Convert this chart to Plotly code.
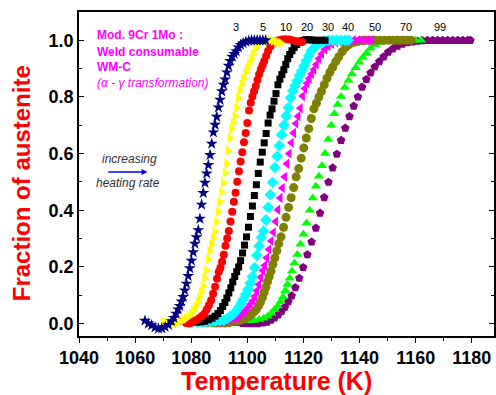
import plotly.graph_objects as go

# ---------------- data ----------------
rates = ["3", "5", "10", "20", "30", "40", "50", "70", "99"]

T_3 = [1063.5,1064.7,1065.9,1067.1,1068.3,1069.5,1070.7,1071.9,1073.0,1073.8,1074.6,1075.3,1075.9,1076.5,1077.1,1077.7,1078.3,1078.9,1079.5,1080.1,1080.7,1081.3,1081.9,1082.5,1083.1,1083.7,1084.3,1084.9,1085.5,1086.1,1086.7,1087.3,1087.9,1088.5,1089.1,1089.7,1090.3,1090.9,1091.5,1092.1,1092.7,1093.3,1093.9,1094.6,1095.3,1096.0,1096.8,1097.6,1098.5,1099.5,1100.5,1101.5,1102.5,1103.5,1104.5,1105.5,1106.5]
F_3 = [0.01,0.0,-0.006,-0.014,-0.018,-0.017,-0.012,-0.005,0.008,0.02,0.035,0.05,0.062,0.078,0.094,0.117,0.141,0.168,0.195,0.222,0.252,0.282,0.305,0.33,0.37,0.42,0.461,0.497,0.53,0.56,0.595,0.635,0.675,0.702,0.73,0.763,0.79,0.82,0.843,0.862,0.887,0.91,0.927,0.942,0.952,0.962,0.975,0.984,0.99,0.995,0.998,1.0,1.0,1.0,1.0,1.0,1.0]

T_5 = [1070.0,1071.2,1072.4,1073.6,1074.8,1076.0,1077.2,1078.2,1079.1,1080.0,1080.8,1081.6,1082.4,1083.0,1083.6,1084.2,1084.8,1085.4,1086.0,1086.6,1087.2,1087.8,1088.4,1089.0,1089.6,1090.2,1090.8,1091.4,1092.0,1092.6,1093.2,1093.8,1094.4,1095.0,1095.6,1096.2,1096.8,1097.4,1098.0,1098.6,1099.3,1100.0,1100.7,1101.4,1102.1,1102.8,1103.5,1104.3,1105.2,1106.2,1107.2,1108.2,1109.2,1110.2,1111.2,1112.0]
F_5 = [0.008,0.003,0.0,0.0,0.002,0.007,0.012,0.018,0.026,0.035,0.047,0.06,0.076,0.094,0.112,0.132,0.16,0.187,0.226,0.256,0.28,0.302,0.325,0.36,0.395,0.43,0.464,0.497,0.532,0.565,0.61,0.655,0.688,0.709,0.733,0.762,0.795,0.822,0.845,0.866,0.885,0.902,0.918,0.935,0.952,0.97,0.982,0.99,0.996,0.998,1.0,1.0,0.998,0.995,0.993,0.99]

T_10 = [1077.0,1078.2,1079.4,1080.6,1081.8,1082.8,1083.8,1084.7,1085.5,1086.3,1087.1,1087.8,1088.5,1089.2,1089.8,1090.4,1091.0,1091.6,1092.2,1092.8,1093.4,1094.0,1094.6,1095.2,1095.8,1096.4,1097.0,1097.6,1098.2,1098.8,1099.4,1100.0,1100.6,1101.2,1101.8,1102.4,1103.0,1103.6,1104.2,1104.8,1105.4,1106.0,1106.7,1107.4,1108.2,1109.1,1110.1,1111.2,1112.4,1113.6,1114.8,1116.0,1117.2,1118.4,1119.5]
F_10 = [0.008,0.002,0.0,0.006,0.012,0.019,0.027,0.035,0.05,0.065,0.082,0.105,0.13,0.158,0.182,0.197,0.218,0.243,0.275,0.3,0.327,0.36,0.395,0.43,0.462,0.501,0.538,0.572,0.605,0.64,0.673,0.708,0.752,0.78,0.802,0.82,0.838,0.86,0.88,0.897,0.912,0.926,0.945,0.962,0.978,0.99,0.997,1.0,1.003,1.004,1.003,1.0,0.998,0.996,0.994]

T_20 = [1082.0,1083.4,1084.8,1086.2,1087.4,1088.5,1089.5,1090.4,1091.2,1092.0,1092.7,1093.4,1094.1,1094.8,1095.5,1096.2,1096.9,1097.6,1098.3,1099.0,1099.7,1100.4,1101.1,1101.8,1102.5,1103.2,1103.9,1104.6,1105.3,1106.0,1106.7,1107.4,1108.1,1108.8,1109.5,1110.2,1110.9,1111.6,1112.3,1113.0,1113.7,1114.4,1115.1,1115.9,1116.7,1117.6,1118.6,1119.7,1120.8,1122.0,1123.2,1124.4,1125.6,1126.7,1127.7]
F_20 = [0.005,0.006,0.008,0.013,0.019,0.026,0.035,0.046,0.06,0.074,0.09,0.108,0.126,0.147,0.166,0.183,0.2,0.222,0.249,0.277,0.306,0.34,0.378,0.415,0.452,0.49,0.53,0.57,0.605,0.638,0.671,0.708,0.736,0.758,0.785,0.812,0.843,0.863,0.879,0.896,0.915,0.935,0.95,0.963,0.975,0.985,0.993,0.999,1.002,1.002,1.001,1.0,1.0,1.0,1.0]

T_30 = [1080.6,1082.2,1083.8,1085.4,1087.0,1088.6,1090.2,1091.6,1092.8,1094.0,1095.1,1096.1,1097.0,1097.8,1098.6,1099.4,1100.2,1101.0,1101.8,1102.6,1103.4,1104.2,1105.0,1105.8,1106.6,1107.4,1108.2,1109.0,1109.8,1110.6,1111.4,1112.2,1113.0,1113.8,1114.6,1115.4,1116.2,1117.0,1117.8,1118.6,1119.4,1120.2,1121.0,1121.9,1122.8,1123.8,1124.9,1126.1,1127.4,1128.8,1130.3,1131.8,1133.3,1134.8,1136.0]
F_30 = [0.005,0.005,0.005,0.006,0.007,0.008,0.01,0.012,0.018,0.026,0.034,0.045,0.058,0.072,0.085,0.103,0.12,0.142,0.165,0.197,0.241,0.274,0.304,0.326,0.366,0.41,0.455,0.498,0.551,0.59,0.628,0.667,0.7,0.733,0.762,0.797,0.822,0.84,0.858,0.876,0.892,0.91,0.928,0.946,0.963,0.975,0.985,0.992,0.996,0.999,1.0,1.0,1.0,1.0,1.0]

T_40 = [1089.0,1090.6,1092.2,1093.7,1095.0,1096.2,1097.3,1098.4,1099.4,1100.3,1101.1,1101.9,1102.7,1103.4,1104.1,1104.8,1105.5,1106.2,1106.9,1107.7,1108.5,1109.3,1110.1,1110.9,1111.7,1112.5,1113.3,1114.1,1114.9,1115.7,1116.5,1117.3,1118.1,1118.9,1119.7,1120.5,1121.3,1122.1,1122.9,1123.7,1124.6,1125.5,1126.5,1127.6,1128.8,1130.1,1131.5,1133.0,1134.6,1136.2,1137.8,1139.4,1141.0,1142.6,1144.2]
F_40 = [0.005,0.006,0.009,0.012,0.016,0.02,0.027,0.036,0.046,0.057,0.068,0.08,0.096,0.116,0.138,0.163,0.187,0.205,0.232,0.262,0.291,0.322,0.36,0.402,0.443,0.479,0.518,0.564,0.6,0.638,0.673,0.706,0.732,0.76,0.803,0.83,0.848,0.865,0.881,0.897,0.915,0.935,0.952,0.968,0.98,0.988,0.993,0.996,0.998,0.999,1.0,1.0,1.0,1.0,1.0]

T_50 = [1082.4,1084.0,1085.6,1087.2,1088.8,1090.4,1092.0,1093.6,1095.0,1096.3,1097.5,1098.6,1099.6,1100.6,1101.5,1102.4,1103.2,1104.0,1104.7,1105.4,1106.0,1106.6,1107.2,1107.8,1108.4,1109.1,1109.8,1110.5,1111.2,1112.0,1112.9,1113.8,1114.7,1115.6,1116.5,1117.4,1118.3,1119.2,1120.1,1121.0,1121.9,1122.8,1123.7,1124.6,1125.5,1126.4,1127.4,1128.4,1129.4,1130.4,1131.5,1132.6,1133.8,1135.0,1136.3,1137.7,1139.2,1140.8,1142.4,1144.0,1145.6,1147.2,1148.8,1150.4,1152.0,1153.6,1155.2,1156.8,1158.3]
F_50 = [0.005,0.004,0.003,0.003,0.002,0.002,0.002,0.003,0.006,0.009,0.012,0.016,0.02,0.026,0.033,0.041,0.05,0.063,0.076,0.092,0.11,0.128,0.148,0.166,0.185,0.209,0.232,0.257,0.282,0.306,0.34,0.375,0.41,0.444,0.48,0.518,0.547,0.584,0.62,0.655,0.688,0.724,0.758,0.778,0.8,0.82,0.843,0.866,0.887,0.905,0.925,0.942,0.96,0.975,0.985,0.992,0.996,0.999,1.0,1.0,1.0,1.0,1.0,1.0,1.0,1.0,1.0,1.0,1.0]

T_70 = [1100.6,1102.4,1104.2,1105.8,1107.2,1108.5,1109.7,1110.8,1111.8,1112.7,1113.5,1114.3,1115.1,1115.9,1116.8,1117.8,1118.9,1120.0,1121.1,1122.2,1123.3,1124.4,1125.5,1126.6,1127.7,1128.8,1129.9,1131.0,1132.2,1133.4,1134.7,1136.0,1137.3,1138.6,1139.9,1141.2,1142.5,1143.9,1145.4,1147.0,1148.6,1150.2,1151.8,1153.4,1155.0,1156.6,1158.2,1159.9,1161.9]
F_70 = [0.01,0.011,0.014,0.019,0.026,0.036,0.05,0.062,0.077,0.094,0.116,0.138,0.16,0.185,0.214,0.244,0.28,0.315,0.355,0.4,0.443,0.485,0.52,0.557,0.6,0.65,0.7,0.741,0.773,0.802,0.833,0.858,0.881,0.903,0.923,0.94,0.955,0.972,0.984,0.992,0.997,1.0,1.0,1.0,1.0,1.0,1.0,1.0,1.0]

T_99 = [1094.7,1096.5,1098.3,1100.1,1101.9,1103.7,1105.5,1107.0,1108.4,1109.7,1111.0,1112.2,1113.4,1114.6,1115.8,1117.1,1118.5,1119.9,1121.4,1122.9,1124.4,1125.9,1127.4,1128.9,1130.4,1131.9,1133.4,1134.9,1136.4,1137.9,1139.4,1140.9,1142.4,1143.9,1145.4,1147.0,1148.6,1150.2,1151.8,1153.5,1155.2,1157.0,1158.8,1160.6,1162.4,1164.2,1166.0,1167.8,1169.6,1171.4,1173.2,1175.0,1176.8,1178.6,1179.5]
F_99 = [0.01,0.004,0.001,0.0,0.0,0.0,0.002,0.005,0.012,0.02,0.031,0.043,0.058,0.077,0.098,0.127,0.16,0.198,0.243,0.288,0.337,0.39,0.445,0.499,0.55,0.598,0.647,0.69,0.731,0.768,0.8,0.835,0.862,0.885,0.906,0.925,0.942,0.958,0.97,0.98,0.987,0.992,0.995,0.997,0.999,1.0,1.0,1.0,1.0,1.0,1.0,1.0,1.0,1.0,1.0]

x_tickvals = [1040, 1060, 1080, 1100, 1120, 1140, 1160, 1180]
x_ticktext = ["1040", "1060", "1080", "1100", "1120", "1140", "1160", "1180"]
y_tickvals = [0.0, 0.2, 0.4, 0.6, 0.8, 1.0]
y_ticktext = ["0.0", "0.2", "0.4", "0.6", "0.8", "1.0"]

# ---------------- styling ----------------
series = [
    (T_99, F_99, "99", "pentagon", "#800080", 9),
    (T_70, F_70, "70", "triangle-up", "#00FF00", 9),
    (T_50, F_50, "50", "circle", "#808000", 9),
    (T_40, F_40, "40", "triangle-left", "#FF00FF", 9),
    (T_30, F_30, "30", "diamond", "#00FFFF", 9),
    (T_20, F_20, "20", "square", "#000000", 7),
    (T_10, F_10, "10", "circle", "#FF0000", 8),
    (T_5, F_5, "5", "triangle-right", "#FFFF00", 9),
    (T_3, F_3, "3", "star", "#000080", 9),
]
label_T = [1095.9, 1105.5, 1113.6, 1121.4, 1128.8, 1135.9, 1145.5, 1156.4, 1168.5]
FONT = "Liberation Sans, Arial, sans-serif"

fig = go.Figure()
for T, F, name, sym, col, sz in series:
    fig.add_trace(go.Scatter(x=T, y=F, mode="markers", name=name,
                             marker=dict(symbol=sym, color=col, size=sz, line=dict(width=0))))

x_range = [1040, 1187.9]
y_range = [-0.044, 1.1]

fig.update_layout(
    width=496, height=395,
    margin=dict(l=79, r=0, t=12, b=59),
    paper_bgcolor="white", plot_bgcolor="white",
    showlegend=False,
    font=dict(family=FONT, color="black"),
    xaxis=dict(range=x_range, tickmode="array", tickvals=x_tickvals, ticktext=x_ticktext,
               ticks="outside", ticklen=5, tickwidth=1.3, tickcolor="black",
               minor=dict(dtick=10, tick0=1040, ticks="outside", ticklen=3, tickwidth=1.2, tickcolor="black"),
               showline=True, linecolor="black", linewidth=1.5, mirror=True,
               showgrid=False, zeroline=False,
               tickfont=dict(size=18, family=FONT, color="black", weight="bold")),
    xaxis2=dict(range=x_range, overlaying="x", side="top", matches="x",
                tickmode="array", tickvals=x_tickvals, showticklabels=False,
                ticks="inside", ticklen=5, tickwidth=1.3, tickcolor="black",
                minor=dict(dtick=10, tick0=1040, ticks="inside", ticklen=3, tickwidth=1.2, tickcolor="black"),
                showline=False, showgrid=False, zeroline=False),
    yaxis=dict(range=y_range, tickmode="array", tickvals=y_tickvals, ticktext=y_ticktext,
               ticks="inside", ticklen=5, tickwidth=1.3, tickcolor="black",
               minor=dict(dtick=0.1, tick0=0, ticks="inside", ticklen=3, tickwidth=1.2, tickcolor="black"),
               showline=True, linecolor="black", linewidth=1.5, mirror="ticks",
               showgrid=False, zeroline=False,
               tickfont=dict(size=18, family=FONT, color="black", weight="bold")),
)

annotations = [
    dict(text="Temperature (K)", xref="paper", yref="paper", x=(277 - 79) / 417, y=-(381 - 336) / 324,
         showarrow=False, font=dict(size=25, color="#FF0000", family=FONT, weight="bold"),
         xanchor="center", yanchor="middle"),
    dict(text="Fraction of austenite", xref="paper", yref="paper", x=(21 - 79) / 417, y=(336 - 183) / 324,
         showarrow=False, textangle=-90, font=dict(size=24, color="#FF0000", family=FONT, weight="bold"),
         xanchor="center", yanchor="middle"),
    dict(text="Mod. 9Cr 1Mo :", x=1045.7, y=1.019, xref="x", yref="y", showarrow=False,
         xanchor="left", yanchor="middle", font=dict(size=12, color="#FF00FF", family=FONT, weight="bold")),
    dict(text="Weld consumable", x=1045.7, y=0.960, xref="x", yref="y", showarrow=False,
         xanchor="left", yanchor="middle", font=dict(size=12, color="#FF00FF", family=FONT, weight="bold")),
    dict(text="WM-C", x=1045.7, y=0.906, xref="x", yref="y", showarrow=False,
         xanchor="left", yanchor="middle", font=dict(size=12, color="#FF00FF", family=FONT, weight="bold")),
    dict(text="(α - γ transformation)", x=1045.7, y=0.849, xref="x", yref="y", showarrow=False,
         xanchor="left", yanchor="middle", font=dict(size=12, color="#FF00FF", family=FONT, style="italic")),
    dict(text="increasing", x=1058.0, y=0.581, xref="x", yref="y", showarrow=False,
         xanchor="center", yanchor="middle", font=dict(size=12, color="#333333", family=FONT, style="italic")),
    dict(text="heating rate", x=1057.5, y=0.496, xref="x", yref="y", showarrow=False,
         xanchor="center", yanchor="middle", font=dict(size=12, color="#333333", family=FONT, style="italic")),
    dict(text="", x=1064.4, y=0.535, ax=1049.9, ay=0.535, xref="x", yref="y", axref="x", ayref="y",
         showarrow=True, arrowhead=2, arrowsize=0.8, arrowwidth=1.5, arrowcolor="#0000FF"),
]
for lab, t in zip(rates, label_T):
    annotations.append(dict(text=lab, x=t, y=1.046, xref="x", yref="y", showarrow=False,
                            xanchor="center", yanchor="middle",
                            font=dict(size=11, color="black", family=FONT)))
fig.update_layout(annotations=annotations)

fig.write_html("out.html")
